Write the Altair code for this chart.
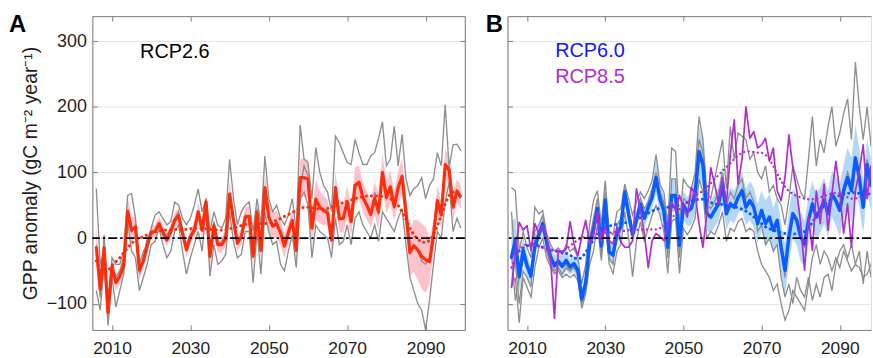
import altair as alt
import pandas as pd

years = list(range(2006, 2100))
tick_years = [2010, 2030, 2050, 2070, 2090]
tick_values = [-100, 0, 100, 200, 300]

# ---- RCP2.6: ensemble mean, smoothed trend, spread and three member models ----
rcp26_mean = [
    -13, -78, -15, -114,
    -44, -68, -58, -42, 41, 12, 17, -49, -35, -12,
    9, 10, 22, 9, -3, 10, 27, 34, 7, -18,
    2, 12, 40, 12, 55, -28, 19, -10, -10, -1,
    67, 27, -8, 2, 32, 33, -28, 39, -19, 77,
    32, 18, 22, 8, -12, 8, 27, -19, 92, 92,
    90, 15, 59, 47, 42, 38, -3, 77, 29, 30,
    55, 25, 80, 85, 62, 50, 36, 60, 40, 100,
    62, 78, 48, 77, 94, 38, -22, -12, -18, -28,
    -33, -36, 3, 57, 35, 112, 104, 47, 72, 62,
]
rcp26_smooth = [
    -35, -45, -52, -50,
    -42, -36, -30, -22, -15, -8, -3, 0, 2, 5,
    7, 9, 11, 12, 12, 12, 13, 13, 13, 13,
    14, 14, 14, 14, 14, 13, 13, 12, 12, 12,
    14, 16, 17, 19, 21, 22, 22, 22, 22, 22,
    23, 25, 27, 30, 33, 36, 39, 42, 45, 47,
    47, 46, 45, 44, 44, 45, 47, 50, 52, 54,
    56, 58, 60, 62, 63, 64, 64, 64, 64, 63,
    62, 60, 56, 50, 40, 28, 15, 5, -2, -6,
    -7, -4, 4, 18, 35, 52, 65, 70, 70, 66,
]
rcp26_spread = [
    30, 20, 20, 15,
    15, 12, 12, 12, 22, 20, 15, 15, 12, 10,
    10, 10, 12, 10, 10, 10, 12, 12, 10, 12,
    10, 12, 15, 12, 15, 18, 12, 12, 12, 12,
    20, 15, 12, 12, 15, 15, 15, 15, 15, 20,
    22, 20, 20, 20, 18, 15, 15, 15, 28, 30,
    28, 25, 30, 25, 22, 20, 15, 25, 20, 22,
    25, 22, 28, 25, 22, 22, 20, 25, 28, 28,
    25, 25, 22, 25, 28, 25, 35, 40, 45, 50,
    50, 35, 25, 22, 20, 22, 22, 20, 18, 18,
]
rcp26_model_a = [
    75, -40, -20, -100,
    -30, -40, -40, -20, 65, 68, 30, -40, -20, -10,
    15, 35, 40, 30, 20, 25, 55, 50, 30, 20,
    30, 50, 75, 40, 60, 10, 40, 20, 15, 30,
    120, 60, 20, 40, 50, 55, 10, 60, 20, 125,
    60, 40, 50, 30, 20, 35, 60, 10, 172, 120,
    115, 60, 138, 100, 80, 70, 40, 155, 145, 130,
    115, 112, 150, 130, 112, 112, 125, 130, 152, 177,
    110, 120, 170, 110, 158, 90, 65, 75, 80, 92,
    60, 80, 90, 130, 110, 203, 107, 142, 143, 133,
]
rcp26_model_b = [
    -80, -110, -40, -133,
    -60, -105, -80, -55, 25, -20, -30, -80, -60, -40,
    -10, -5, 15, -10, -30, -20, 10, 20, -20, -55,
    -30, -10, 10, -20, 45, -58, -10, -40, -35, -25,
    40, -5, -30, -25, 10, 10, -68, 10, -55, 40,
    10, -10, -5, -40, -50, -20, 5, -45, 60, 70,
    50, -30, 20, 10, 5, 0, -30, 30, -10, -5,
    20, -10, 30, 40, 20, 10, 0, 20, -5, 40,
    30, 20, 10, 30, 45, -10, -60, -80, -100, -110,
    -140, -95, -40, 10, 0, 55, 85, 10, 30, 15,
]
rcp26_model_c = [
    -10, -90, 5, -110,
    -40, -60, -50, -30, 35, 10, 20, -55, -30, 0,
    5, 10, 20, 5, 5, 15, 30, 40, 10, -10,
    5, 15, 40, 15, 55, -25, 25, -10, -5, 5,
    60, 25, -5, 5, 35, 30, -20, 45, -15, 70,
    30, 20, 25, 10, -10, 10, 25, -20, 75, 110,
    95, 15, 60, 45, 40, 45, -5, 75, 30, 30,
    55, 30, 80, 85, 65, 50, 35, 70, 35, 100,
    60, 75, 45, 75, 95, 35, -25, -10, -20, -35,
    -40, -30, 10, 55, 35, 110, 100, 45, 70, 60,
]

# ---- RCP6.0 ensemble and four members, RCP8.5 ensemble ----
rcp60_mean = [
    -30, -3, -59, -19,
    -42, -58, -12, 5, 22, -6, -28, -42, -35, -43,
    -34, -44, -39, -49, -93, -68, -10, 13, 45, -12,
    58, -21, -26, 7, 17, 70, 35, 5, 27, 52,
    30, 47, 62, 92, 60, 42, -14, 65, 65, -11,
    50, 40, 45, 67, 132, 112, 37, 32, 42, 52,
    82, 37, 52, 47, 62, 72, 47, 57, 47, 22,
    42, 22, 32, 12, 27, -14, -49, 2, 37, 27,
    2, -9, 27, 52, 32, 42, 57, 37, 67, 57,
    42, 72, 92, 72, 122, 92, 47, 112, 80, 85,
]
rcp60_smooth = [
    -30, -25, -20, -15,
    -12, -10, -10, -12, -14, -16, -18, -19, -20, -21,
    -23, -26, -30, -32, -30, -22, -12, -3, 5, 10,
    14, 18, 20, 21, 22, 23, 24, 26, 28, 31,
    34, 38, 41, 44, 45, 46, 47, 48, 49, 50,
    52, 54, 56, 58, 59, 59, 57, 54, 52, 51,
    51, 50, 49, 48, 46, 44, 41, 37, 32, 27,
    22, 17, 14, 12, 10, 8, 7, 6, 6, 6,
    7, 10, 16, 24, 33, 42, 50, 55, 59, 62,
    65, 67, 68, 69, 69, 68, 67, 67, 67, 67,
]
rcp60_spread = [
    55, 35, 25, 20,
    18, 15, 15, 15, 15, 15, 15, 15, 15, 15,
    15, 12, 12, 15, 15, 15, 15, 15, 18, 15,
    15, 15, 15, 15, 15, 15, 15, 15, 15, 15,
    15, 15, 18, 25, 25, 20, 25, 25, 25, 25,
    22, 22, 25, 30, 40, 35, 25, 25, 25, 25,
    30, 25, 25, 25, 25, 30, 28, 30, 30, 30,
    30, 35, 35, 35, 35, 38, 40, 40, 38, 38,
    38, 35, 35, 35, 35, 35, 35, 35, 35, 38,
    40, 40, 45, 50, 50, 45, 40, 40, 40, 40,
]
rcp60_model_a = [
    77, 72, -20, 10,
    -15, -30, 47, 37, 42, 7, -10, -20, -15, -25,
    -10, -20, -15, -30, -70, -40, 20, 57, 72, 20,
    87, 10, 5, 40, 45, 82, 60, 35, 55, 70,
    60, 72, 87, 127, 82, 70, 20, 137, 132, 20,
    90, 80, 75, 100, 185, 150, 70, 60, 90, 120,
    150, 75, 170, 120, 160, 155, 150, 120, 130, 100,
    90, 110, 70, 80, 60, 50, 20, 60, 110, 90,
    70, 60, 120, 185, 110, 150, 130, 170, 200, 140,
    160, 190, 212, 150, 268, 200, 150, 200, 140, 160,
]
rcp60_model_b = [
    -75, -60, -129, -60,
    -75, -90, -45, -15, 0, -30, -44, -54, -50, -60,
    -55, -60, -55, -65, -107, -85, -40, -20, 20, -34,
    25, -39, -54, -20, -10, 40, 0, -59, -5, 25,
    -5, 15, 35, 50, 35, 10, -54, 25, 30, -54,
    15, 5, 15, 30, 90, 70, 0, 10, 5, 20,
    40, -5, 15, 10, 25, 30, 10, 15, 10, -20,
    -40, -50, -60, -80, -70, -100, -125, -110, -80, -90,
    -100, -110, -70, -30, -10, -40, -20, -30, -50, -30,
    -45, -20, -35, -50, -40, -45, -60, -55, -40, -50,
]
rcp60_model_c = [
    -20, -95, -60, -30,
    -45, -60, -20, 5, 25, -10, -35, -45, -40, -45,
    -40, -50, -45, -55, -95, -75, -10, 10, 45, -15,
    60, -20, -25, 5, 15, 70, 35, 5, 25, 50,
    30, 45, 60, 90, 55, 40, -15, 60, 65, -10,
    45, 40, 45, 60, 120, 110, 40, 30, 40, 50,
    80, 35, 55, 45, 60, 75, 45, 55, 45, 20,
    40, 25, 30, 15, 25, -10, -60, 5, 35, 30,
    5, -15, 30, 55, 35, 45, 60, 40, 70, 60,
    50, 80, 100, 80, 125, 100, 50, 120, 80, 90,
]
rcp60_model_d = [
    40, -40, -100, -50,
    -60, -75, 10, 20, 35, -20, -40, -50, -45, -55,
    -45, -50, -40, -55, -100, -70, 0, 30, 60, -25,
    70, -30, -40, 20, 30, 75, 45, 10, 35, 60,
    45, 55, 75, 100, 70, 55, -30, 90, 90, -30,
    60, 55, 60, 80, 150, 130, 50, 45, 55, 70,
    100, 50, 70, 60, 80, 90, 60, 70, 55, 10,
    20, -10, 0, -20, -10, -60, -90, -70, -100, -60,
    -80, -90, -60, -95, -70, -90, -60, -55, -80, -40,
    -20, -10, -30, -10, -40, -20, -70, -20, -60, -40,
]
rcp85_mean = [
    -76, -22, 24, 12,
    19, -19, 22, 7, 19, 2, -30, -122, -19, -24,
    -16, 25, -9, -27, 2, 27, -9, 2, 40, -4,
    17, -4, -9, 17, -6, -14, -14, -4, 75, 42,
    7, -45, -4, 7, 2, -4, 17, 55, 42, 65,
    47, 32, 77, 67, 22, -14, 37, 107, 82, 52,
    92, 52, 127, 180, 82, 120, 200, 152, 162, 137,
    142, 152, 117, 137, 72, 57, 92, 157, 107, 72,
    22, -49, 32, -19, 72, 22, 82, 12, 67, 117,
    72, 7, 52, -14, 72, 102, 142, 60, 110, 90,
]
rcp85_smooth = [
    -45, -30, -18, -12,
    -9, -9, -11, -13, -15, -16, -18, -20, -21, -20,
    -17, -12, -7, -3, 0, 2, 4, 6, 7, 7,
    8, 8, 9, 9, 10, 11, 12, 12, 12, 13,
    13, 13, 13, 13, 15, 18, 23, 30, 37, 44,
    50, 55, 60, 64, 68, 72, 77, 83, 90, 96,
    102, 108, 114, 120, 126, 130, 132, 132, 131, 130,
    130, 127, 120, 110, 98, 87, 78, 71, 67, 64,
    62, 60, 59, 59, 60, 62, 64, 66, 68, 69,
    68, 65, 62, 60, 60, 62, 64, 66, 68, 70,
]

FONT = "Liberation Sans"
FRAME = "#7f7f7f"
GRID = "#e3e3e3"
INK = "#1f1f1f"
GRAY = "#8e8e8e"
RED = "#ff2d0a"
PINK = "#ffc2cd"
BLUE = "#0a5cff"
LIGHT_BLUE = "#b3d8f6"
PURPLE = "#b32bd0"
H = 316
Y_DOMAIN = [-140, 338]
Y_TITLE = "GPP anomaly (gC m\u207b\u00b2 year\u207b\u00b9)"


def ensemble_frame(mean, smooth, spread=None):
    data = {"year": years, "value": mean, "smooth": smooth}
    if spread is not None:
        data["lo"] = [m - s for m, s in zip(mean, spread)]
        data["hi"] = [m + s for m, s in zip(mean, spread)]
    return pd.DataFrame(data)


def models_frame(models):
    return pd.DataFrame([{"year": yr, "value": v, "model": name}
                         for name, vals in models.items()
                         for yr, v in zip(years, vals)])


def tick_axis(orient, offset, values, frame=False):
    # inward ticks (and optionally a frame line) drawn by an axis moved onto the opposite edge
    return alt.Axis(orient=orient, offset=offset, values=values, labels=False,
                    ticks=True, tickSize=5, tickColor=FRAME, tickWidth=1,
                    domain=frame, domainColor=FRAME, domainWidth=1,
                    grid=False, title=None, minExtent=0, maxExtent=0)


def panel(width, x_max, letter, models, band, lines, labels, show_y, right_frame):
    xs = alt.Scale(domain=[2005, x_max], nice=False, zero=False)
    ys = alt.Scale(domain=Y_DOMAIN, nice=False, zero=False)

    x_labels = alt.Axis(orient="bottom", values=tick_years, format="d", ticks=False,
                        grid=False, domain=True, domainColor=FRAME, domainWidth=1,
                        labelFont=FONT, labelFontSize=17.5, labelColor=INK,
                        labelPadding=10, labelFlush=False, title=None)
    y_common = dict(orient="left", values=tick_values, ticks=False, grid=True,
                    gridColor=GRID, gridWidth=1, domain=True, domainColor=FRAME,
                    domainWidth=1)
    if show_y:
        y_labels = alt.Axis(labels=True, labelFont=FONT, labelFontSize=18,
                            labelColor=INK, labelPadding=6, title=Y_TITLE,
                            titleFont=FONT, titleFontSize=19.5, titleFontWeight="normal",
                            titleColor=INK, titlePadding=6, **y_common)
    else:
        y_labels = alt.Axis(labels=False, title=None, minExtent=0, maxExtent=0, **y_common)

    band_df, band_color = band
    layers = [
        alt.Chart(band_df).mark_area(color=band_color, opacity=1, clip=True).encode(
            x=alt.X("year:Q", scale=xs, axis=tick_axis("top", -H, tick_years)),
            y=alt.Y("lo:Q", scale=ys, axis=tick_axis("right", -width, tick_values)),
            y2="hi:Q"),
        alt.Chart(models_frame(models)).mark_line(color=GRAY, strokeWidth=1.35, clip=True).encode(
            x=alt.X("year:Q", scale=xs, axis=x_labels),
            y=alt.Y("value:Q", scale=ys, axis=y_labels),
            detail="model:N"),
    ]
    for i, (df, color, main_w, dot_w, dot_gap) in enumerate(lines):
        if i == 0:
            x_axis = tick_axis("bottom", -H, tick_years, frame=True)
            y_axis = tick_axis("left", -width, tick_values, frame=True) if right_frame else None
        else:
            x_axis, y_axis = None, None
        layers.append(
            alt.Chart(df).mark_line(color=color, strokeWidth=main_w, clip=True,
                                    strokeJoin="round").encode(
                x=alt.X("year:Q", scale=xs, axis=x_axis),
                y=alt.Y("value:Q", scale=ys, axis=y_axis)))
        layers.append(
            alt.Chart(df).mark_line(color=color, strokeWidth=dot_w, clip=True,
                                    strokeCap="round", strokeDash=[0.1, dot_gap]).encode(
                x=alt.X("year:Q", scale=xs, axis=None),
                y=alt.Y("smooth:Q", scale=ys, axis=None)))

    layers.append(
        alt.Chart(pd.DataFrame({"value": [0]})).mark_rule(
            color="black", strokeWidth=1.7, strokeDash=[9, 3, 2.5, 3]).encode(
            y=alt.Y("value:Q", scale=ys, axis=None)))

    for text, color, ypos in labels:
        layers.append(
            alt.Chart(pd.DataFrame({"t": [text]})).mark_text(
                font=FONT, fontSize=20, color=color, align="left",
                baseline="alphabetic").encode(
                x=alt.value(48), y=alt.value(ypos), text="t:N"))

    layers.append(
        alt.Chart(pd.DataFrame({"t": [letter]})).mark_text(
            font=FONT, fontSize=24, fontWeight="bold", color="black",
            align="left", baseline="alphabetic").encode(
            x=alt.value(-84 if show_y else -22), y=alt.value(16), text="t:N"))

    return alt.layer(*layers).resolve_axis(x="independent", y="independent").properties(
        width=width, height=H)


rcp26 = ensemble_frame(rcp26_mean, rcp26_smooth, rcp26_spread)
rcp60 = ensemble_frame(rcp60_mean, rcp60_smooth, rcp60_spread)
rcp85 = ensemble_frame(rcp85_mean, rcp85_smooth)

panel_a = panel(
    375, 2100, "A",
    {"m1": rcp26_model_a, "m2": rcp26_model_b, "m3": rcp26_model_c},
    (rcp26, PINK),
    [(rcp26, RED, 3.2, 3.0, 5.0)],
    [("RCP2.6", "black", 42)],
    show_y=True, right_frame=True)

panel_b = panel(
    366, 2098, "B",
    {"m1": rcp60_model_a, "m2": rcp60_model_b, "m3": rcp60_model_c, "m4": rcp60_model_d},
    (rcp60, LIGHT_BLUE),
    [(rcp60, BLUE, 3.5, 3.0, 5.0), (rcp85, PURPLE, 1.7, 2.3, 4.5)],
    [("RCP6.0", "#1414ff", 41), ("RCP8.5", PURPLE, 67)],
    show_y=False, right_frame=False)

chart = alt.hconcat(panel_a, panel_b, spacing=18).properties(
    padding={"left": 8, "top": 11, "right": 0, "bottom": 0}
).configure_view(strokeWidth=0).configure(background="white")

chart.save("out.html", embed_options={"renderer": "svg", "actions": False})
